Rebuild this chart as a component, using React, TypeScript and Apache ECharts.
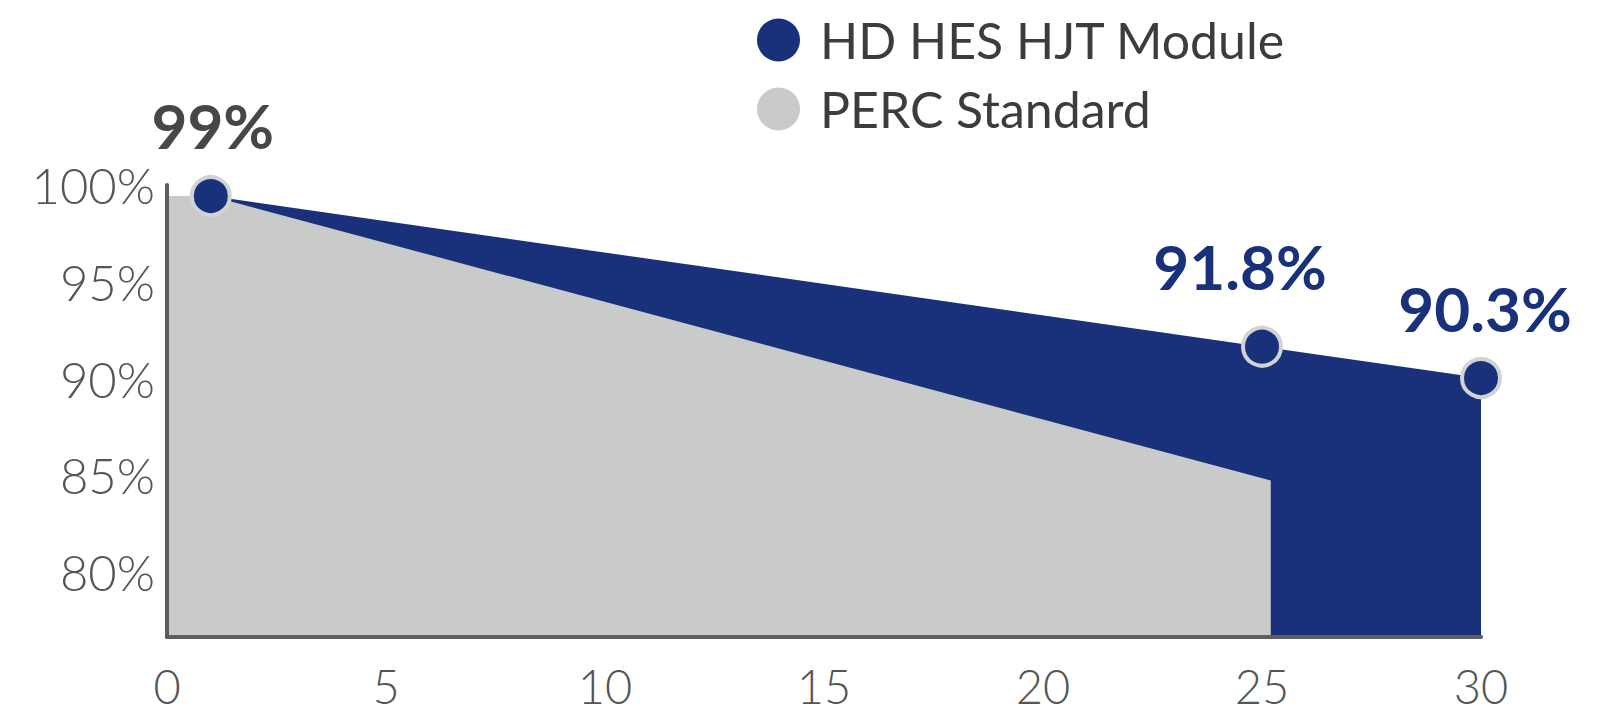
import React, { useEffect, useRef } from "react";
import * as echarts from "echarts";

const seriesNames = ["HD HES HJT Module", "PERC Standard"];
const hjtYears = [1, 25, 30];
const hjtValues = [99, 91.8, 90.3];
const percYears = [0, 1, 25.2];
const percValues = [99, 99, 85.4];
const xTicks = [0, 5, 10, 15, 20, 25, 30];
const yTickValues = [80, 85, 90, 95, 100];
const labelOffsets = [
  [2, -71],
  [-22, -81],
  [4, -70],
];
const labelColors = ["#474747", "#18317A", "#18317A"];

const BLUE = "#18317A";
const GRAY = "#C9CBCA";
const AXIS = "#5E5E5E";
const FONT = "Lato, 'Open Sans', sans-serif";

export default function App() {
  const ref = useRef<HTMLDivElement>(null);
  useEffect(() => {
    if (!ref.current) return;
    const chart = echarts.init(ref.current, undefined, { renderer: "svg" });
    const hjtData = hjtYears.map((x, i) => [x, hjtValues[i]]);
    const percData = percYears.map((x, i) => [x, percValues[i]]);
    chart.setOption({
      animation: false,
      backgroundColor: "#ffffff",
      legend: {
        orient: "vertical",
        left: 752,
        top: 10,
        itemWidth: 43,
        itemHeight: 43,
        itemGap: 19,
        selectedMode: false,
        data: [
          { name: seriesNames[0], icon: "circle", itemStyle: { color: BLUE, borderWidth: 0, opacity: 1 } },
          { name: seriesNames[1], icon: "circle", itemStyle: { color: GRAY, borderWidth: 0, opacity: 1 } },
        ],
        textStyle: {
          fontFamily: FONT,
          fontSize: 50,
          color: "#3C3C3C",
          lineHeight: 43,
          padding: [0, 0, 0, 15],
        },
      },
      grid: { left: 167, right: 132, top: 185, bottom: 76, containLabel: false },
      xAxis: {
        type: "value",
        min: xTicks[0],
        max: xTicks[xTicks.length - 1],
        interval: 5,
        z: 10,
        axisLine: { show: true, lineStyle: { color: AXIS, width: 4 } },
        axisTick: { show: false },
        splitLine: { show: false },
        axisLabel: {
          margin: 30,
          fontFamily: FONT,
          fontWeight: 300,
          fontSize: 47,
          lineHeight: 38,
          color: "#555555",
        },
      },
      yAxis: [
        {
          type: "value",
          min: 76.65,
          max: 100,
          z: 10,
          axisLine: { show: true, onZero: false, lineStyle: { color: AXIS, width: 4 } },
          axisTick: { show: false },
          splitLine: { show: false },
          axisLabel: {
            customValues: yTickValues,
            formatter: (v: number) => `${v}%`,
            margin: 12,
            fontFamily: FONT,
            fontWeight: 300,
            fontSize: 49,
            color: "#555555",
          },
        },
        {
          type: "value",
          min: 77.92,
          max: 99.53,
          show: false,
          splitLine: { show: false },
        },
      ],
      series: [
        {
          name: seriesNames[0],
          type: "line",
          yAxisIndex: 1,
          data: hjtData,
          showSymbol: false,
          lineStyle: { width: 0, color: BLUE },
          itemStyle: { color: BLUE },
          areaStyle: { color: BLUE, opacity: 1 },
          z: 2,
        },
        {
          name: seriesNames[1],
          type: "line",
          yAxisIndex: 1,
          data: percData,
          showSymbol: false,
          lineStyle: { width: 0, color: GRAY },
          itemStyle: { color: GRAY },
          areaStyle: { color: GRAY, opacity: 1 },
          z: 3,
        },
        {
          name: seriesNames[0],
          type: "scatter",
          yAxisIndex: 1,
          symbol: "circle",
          symbolSize: 38,
          itemStyle: { color: BLUE, borderColor: "#D2D3D3", borderWidth: 4, opacity: 1 },
          z: 4,
          data: hjtData.map((d, i) => ({
            value: d,
            label: {
              show: true,
              position: "inside",
              offset: labelOffsets[i],
              color: labelColors[i],
              fontFamily: FONT,
              fontWeight: "bold",
              fontSize: 62,
              formatter: (p: any) => `${p.value[1]}%`,
            },
          })),
        },
      ],
    });
    return () => chart.dispose();
  }, []);
  return (
    <div
      ref={ref}
      style={{ position: "fixed", left: 0, top: 0, width: 1613, height: 713, background: "#fff" }}
    />
  );
}
